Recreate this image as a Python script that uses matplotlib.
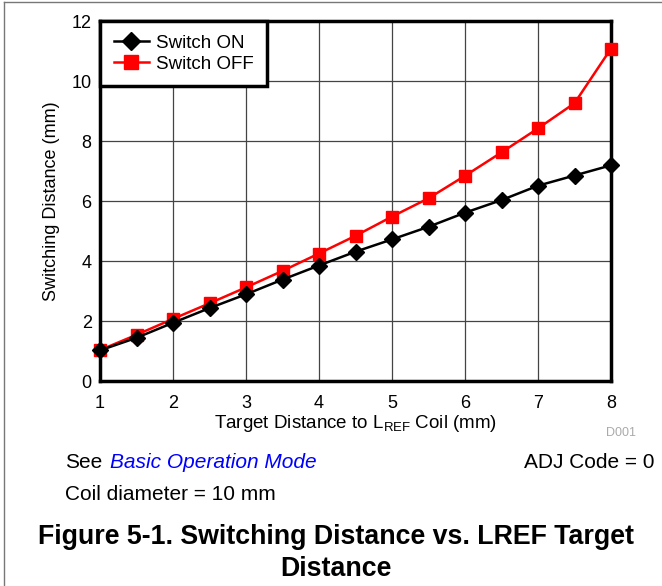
import matplotlib.pyplot as plt
from matplotlib.lines import Line2D

plt.rcParams['font.family'] = ['Liberation Sans', 'DejaVu Sans']
plt.rcParams['mathtext.default'] = 'regular'

# 데이터
target_mm = [1, 1.5, 2, 2.5, 3, 3.5, 4, 4.5, 5, 5.5, 6, 6.5, 7, 7.5, 8]
switch_on = [1.02, 1.44, 1.94, 2.43, 2.89, 3.38, 3.85, 4.31, 4.72, 5.14, 5.61, 6.03, 6.51, 6.85, 7.19]
switch_off = [1.03, 1.54, 2.07, 2.59, 3.12, 3.67, 4.25, 4.84, 5.48, 6.09, 6.84, 7.62, 8.42, 9.26, 11.08]
x_ticks = [1, 2, 3, 4, 5, 6, 7, 8]
y_ticks = [0, 2, 4, 6, 8, 10, 12]

fig = plt.figure(figsize=(6.62, 5.86), dpi=100)
ax = fig.add_axes([100 / 662, 1 - 381 / 586, 511 / 662, 360 / 586])

ax.plot(target_mm, switch_on, color='black', lw=1.8, marker='D', ms=8.5,
        label='Switch ON', zorder=4, clip_on=False)
ax.plot(target_mm, switch_off, color='#ff0000', lw=1.8, marker='s', ms=9,
        label='Switch OFF', zorder=3, clip_on=False)

ax.set_xlim(1, 8)
ax.set_ylim(0, 12)
ax.set_xticks(x_ticks)
ax.set_yticks(y_ticks)
ax.tick_params(length=0, labelsize=13)
ax.tick_params(axis='x', pad=10)
ax.tick_params(axis='y', pad=6)
ax.grid(True, color='#444444', lw=0.9)
ax.set_axisbelow(True)
for s in ax.spines.values():
    s.set_linewidth(2.5)
    s.set_color('black')

ax.set_xlabel('Target Distance to L$_{REF}$ Coil (mm)', fontsize=13.5, labelpad=1)
ax.set_ylabel('Switching Distance (mm)', fontsize=13, labelpad=8)

leg = ax.legend(loc='upper left', bbox_to_anchor=(0, 1), fontsize=13.5,
                fancybox=False, framealpha=1, borderaxespad=0,
                handlelength=1.9, handletextpad=0.35, borderpad=0.72,
                labelspacing=0.22, markerscale=1.1)
leg.get_frame().set_edgecolor('black')
leg.get_frame().set_linewidth(2.5)

fig.text(621 / 662, 1 - 433 / 586, 'D001', fontsize=9, color='#aaaaaa',
         ha='center', va='center')

fig.text(65 / 662, 1 - 462 / 586, 'See', fontsize=15, ha='left', va='center')
fig.text(110 / 662, 1 - 462 / 586, 'Basic Operation Mode', fontsize=15,
         color='#0000ff', style='italic', ha='left', va='center')
fig.text(655 / 662, 1 - 462 / 586, 'ADJ Code = 0', fontsize=15,
         ha='right', va='center')
fig.text(65 / 662, 1 - 494 / 586, 'Coil diameter = 10 mm', fontsize=15,
         ha='left', va='center')

fig.text(336 / 662, 1 - 553 / 586,
         'Figure 5-1. Switching Distance vs. LREF Target\nDistance',
         fontsize=19.3, fontweight='bold', ha='center', va='center',
         linespacing=1.32)

# 테두리 (왼쪽, 위쪽)
fig.add_artist(Line2D([4 / 662, 4 / 662], [0, 1 - 2 / 586], color='#777777', lw=1))
fig.add_artist(Line2D([4 / 662, 1], [1 - 2 / 586, 1 - 2 / 586], color='#777777', lw=1))

fig.savefig('out.png', dpi=100)
